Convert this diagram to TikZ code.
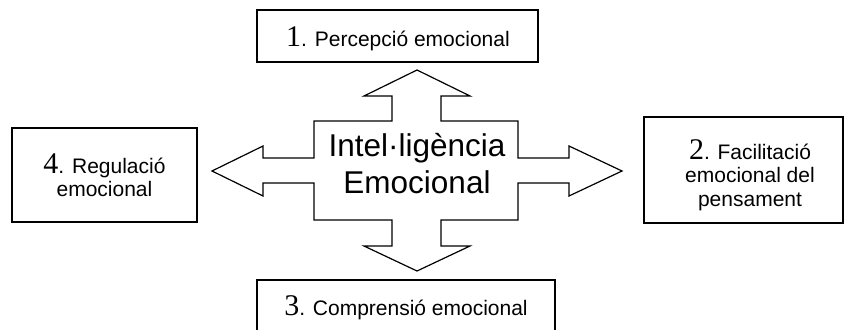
\documentclass[tikz,border=0pt]{standalone}
\usepackage{fontspec}
\setmainfont{Liberation Sans}
\newfontfamily\numfont{Liberation Serif}

\newcommand{\num}[1]{{\numfont\fontsize{30}{24}\selectfont #1}}

\tikzset{
    branch/.style={draw, line width=1.2pt, rectangle, inner sep=0pt, align=center,
        font=\fontsize{21}{23.5}\selectfont},
    branchtext/.style={align=center, inner sep=0pt, font=\fontsize{21}{23.5}\selectfont},
    crossarrow/.style={draw, line width=1.2pt, line join=miter, fill=white}
}

\begin{document}
\begin{tikzpicture}[x=1pt, y=-1pt]

\useasboundingbox (0,0) rectangle (845,329);
\clip (0,0) rectangle (845,329);

% four-way arrow
\draw[crossarrow] (417,70) -- (470,96) -- (441,96) -- (441,121) -- (518,121)
    -- (518,158) -- (569,158) -- (569,146) -- (622,171) -- (569,196) -- (569,183)
    -- (518,183) -- (518,220) -- (441,220) -- (441,246) -- (470,246) -- (417,271)
    -- (364,246) -- (392,246) -- (392,220) -- (314,220) -- (314,183) -- (263,183)
    -- (263,196) -- (212,171) -- (263,146) -- (263,158) -- (314,158) -- (314,121)
    -- (392,121) -- (392,96) -- (364,96) -- cycle;

% centre
\node[align=center, font=\fontsize{31.5}{37}\selectfont] (ie) at (417,164)
    {Intel·ligència\\Emocional};

% branches
\node[branch, minimum width=281pt, minimum height=52pt] (percep) at (397.5,36) {};
\node[branchtext] (perceptext) at (398,39) {\num{1}. Percepció emocional};
\node[branch, minimum width=199pt, minimum height=106pt] (facil) at (743.5,170) {};
\node[branchtext] (faciltext) at (750,175)
    {\num{2}. Facilitació\\emocional del\\pensament};
\node[branch, minimum width=298pt, minimum height=56pt] (compr) at (406,308)
    {\num{3}. Comprensió emocional};
\node[branch, minimum width=185pt, minimum height=94pt] (regul) at (104.5,175)
    {\num{4}. Regulació\\emocional};

\end{tikzpicture}
\end{document}
